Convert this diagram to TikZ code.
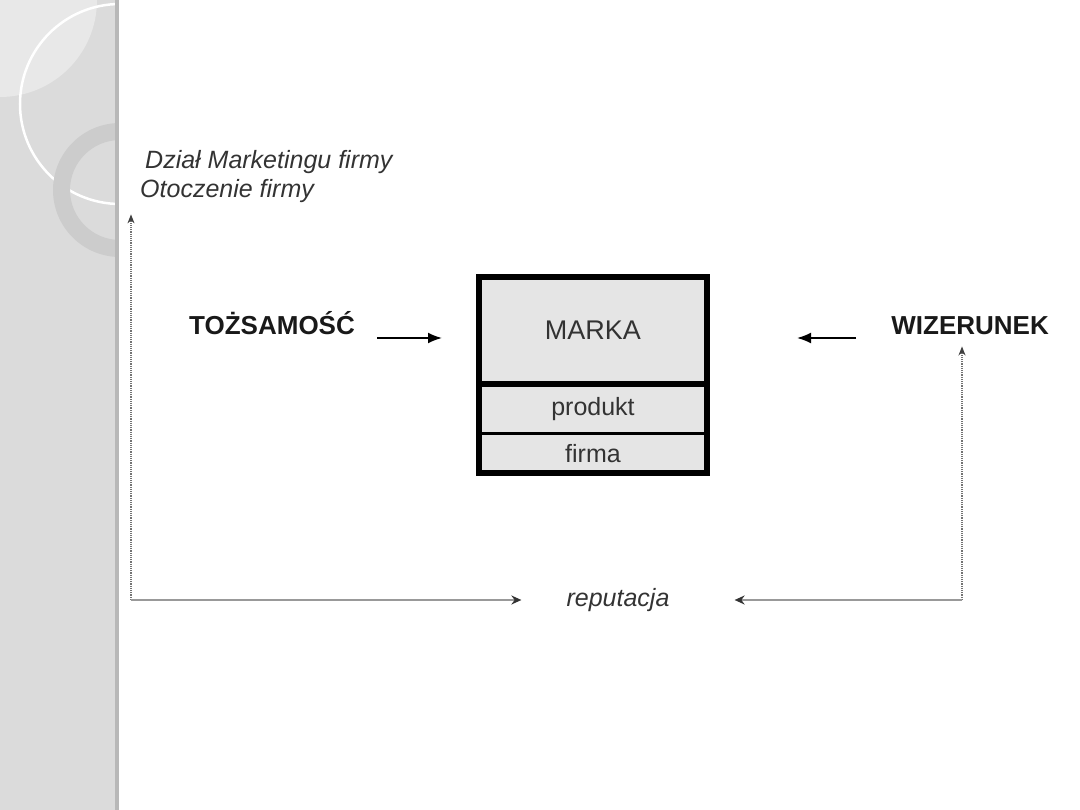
\documentclass[tikz,border=0pt]{standalone}
\usepackage{fontspec}
\setmainfont{Liberation Sans}
\usetikzlibrary{arrows.meta, positioning, calc}
\tikzset{
  brandpart/.style={
    draw=black, line width=3pt, fill=black!10, inner sep=0pt, outer sep=0pt,
    minimum width=228pt, text=black!80, font=\fontsize{25}{30}\selectfont
  },
  keylabel/.style={
    inner sep=0pt, font=\fontsize{26}{30}\selectfont\bfseries, text=black!90
  },
  sidelabel/.style={
    inner sep=0pt, font=\fontsize{25}{30}\selectfont\itshape, text=black!80
  },
  brandarrow/.style={
    -{Latex[length=14pt,width=11pt]}, line width=1.8pt
  },
  loopline/.style={
    densely dotted, line width=1.2pt, color=black!55,
    -{Stealth[length=9pt,width=7pt,color=black!75]}
  },
  reparrow/.style={
    line width=2.4pt, color=black!40,
    -{Stealth[length=10pt,width=9pt,color=black!80]}
  },
}
\begin{document}
\begin{tikzpicture}[x=1pt, y=-1pt]
  \useasboundingbox (0,0) rectangle (1080,810);

  % Side strip
  \fill[black!14] (0,0) rectangle (119,810);
  \begin{scope}
    \clip (0,0) rectangle (115,810);
    \fill[black!9] (0,0) circle[radius=97pt];
    \draw[white, line width=2.5pt] (120,104) circle[radius=100pt];
    \fill[black!20, even odd rule] (120,190) circle[radius=67pt]
      (120,190) circle[radius=50pt];
  \end{scope}
  \fill[black!28] (115,0) rectangle (119,810);

  % Brand block
  \node[brandpart, minimum height=107pt, font=\fontsize{27}{30}\selectfont]
    (marka) at (593,330.5) {MARKA};
  \node[brandpart, minimum height=50pt, below=0pt of marka] (produkt) {produkt};
  \node[brandpart, minimum height=39pt, below=0pt of produkt] (firma) {firma};
  \draw[line width=6pt] (marka.north west) rectangle (firma.south east);
  \draw[line width=6pt] (marka.south west) -- (marka.south east);

  % Labels
  \node[keylabel, anchor=base west] (tozs) at (189,335) {TOŻSAMOŚĆ};
  \node[keylabel, anchor=base east] (wiz) at (1049,335) {WIZERUNEK};
  \node[sidelabel, anchor=base west] (dzial) at (145,169) {Dział Marketingu firmy};
  \node[sidelabel, anchor=base west] (otocz) at (140,198) {Otoczenie firmy};
  \node[sidelabel] (rep) at (618,600) {reputacja};
  \coordinate (lcorner) at (131,600);
  \coordinate (rcorner) at (962,600);

  % Identity and image point at the brand
  \draw[brandarrow] ($(tozs.base east)+(22,3)$) --
    ($(marka.west |- tozs.base)+(-37,3)$);
  \draw[brandarrow] ($(wiz.base west)+(-35,3)$) --
    ($(marka.east |- wiz.base)+(90,3)$);

  % Reputation loop
  \draw[loopline, shorten >=11pt] (lcorner) -- (lcorner |- otocz.south);
  \draw[loopline, shorten >=11pt] (rcorner) -- (rcorner |- wiz.south);
  \draw[reparrow, shorten >=45pt] (lcorner) -- (rep.west);
  \draw[reparrow, shorten >=65pt] (rcorner) -- (rep.east);
\end{tikzpicture}
\end{document}
